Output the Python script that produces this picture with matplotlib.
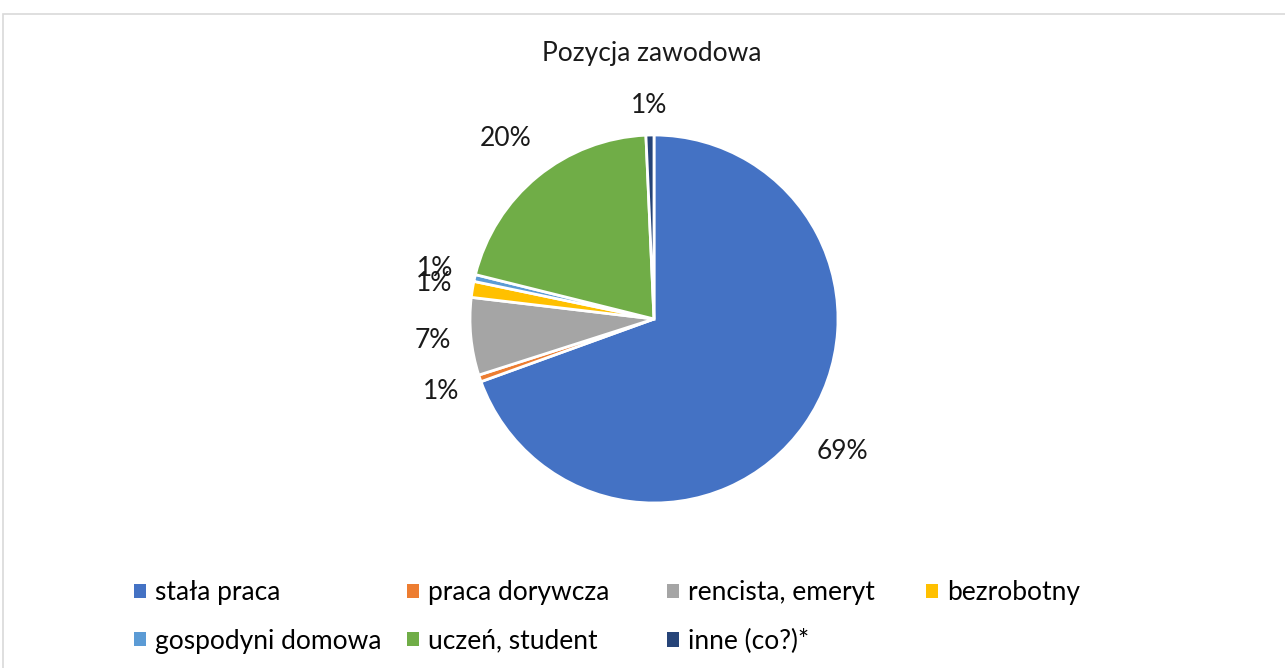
import numpy as np
import matplotlib.pyplot as plt
from matplotlib.patches import Rectangle

labels = ["stała praca", "praca dorywcza", "rencista, emeryt", "bezrobotny",
          "gospodyni domowa", "uczeń, student", "inne (co?)*"]
values = [69.4, 0.6, 6.8, 1.4, 0.6, 20.4, 0.7]
colors = ["#4472C4", "#ED7D31", "#A5A5A5", "#FFC000", "#5B9BD5", "#70AD47", "#264478"]

# distance of each percentage label from the centre (in radii)
label_dist = [1.25, 1.22, 1.21, 1.21, 1.22, 1.27, 1.16]

plt.rcParams['font.family'] = ['Lato', 'DejaVu Sans']

W, H = 1285, 668
fig = plt.figure(figsize=(W / 100, H / 100), dpi=100)

# light frame around the chart area
fig.add_artist(Rectangle((3 / W, -0.1), 1.2, (H - 14) / H + 0.1, transform=fig.transFigure,
                         fill=False, edgecolor="#d9d9d9", linewidth=1.2))

cx, cy, r = 654, 319, 184
half = r * 1.25
ax = fig.add_axes([(cx - half) / W, (H - cy - half) / H, 2 * half / W, 2 * half / H])
wedges, texts, autotexts = ax.pie(values, colors=colors, startangle=90, counterclock=False,
                                  autopct=lambda p: f"{p:.0f}%" if p >= 1 else "1%",
                                  pctdistance=1.22,
                                  wedgeprops=dict(edgecolor="white", linewidth=2),
                                  textprops=dict(fontsize=19, color="#1a1a1a"))
ax.set_aspect("equal")
for w, t, d in zip(wedges, autotexts, label_dist):
    mid = np.deg2rad((w.theta1 + w.theta2) / 2)
    t.set_position((d * np.cos(mid), d * np.sin(mid)))
    t.set_clip_on(False)

fig.text(652 / W, 1 - 53 / H, "Pozycja zawodowa", ha="center", va="center",
         fontsize=19, color="#1a1a1a")

# legend laid out in four columns
cols = [[0, 4], [1, 5], [2, 6], [3]]
col_x = [134, 407, 667, 926]
for xs, idx in zip(col_x, cols):
    leg = fig.legend([wedges[i] for i in idx], [labels[i] for i in idx],
                     loc="upper left", bbox_to_anchor=(xs / W, 1 - 580 / H),
                     frameon=False, fontsize=19, handlelength=0.45, handleheight=0.45,
                     handletextpad=0.35, labelspacing=0.9, borderpad=0, borderaxespad=0)
    for h in leg.legend_handles:
        h.set_edgecolor("none")

fig.savefig("out.png", dpi=100)
